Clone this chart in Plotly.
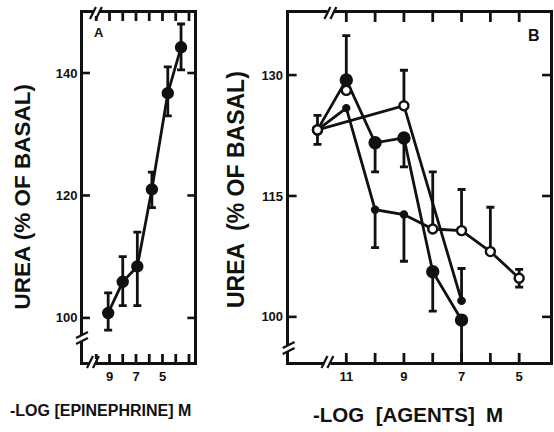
import plotly.graph_objects as go

# ---------------- data ----------------
# Panel A : epinephrine
a_x = [9.1, 8.0, 6.9, 5.8, 4.6, 3.6]
a_y = [100.8, 105.9, 108.4, 121.0, 136.7, 144.2]
a_err_plus = [3.3, 4.1, 5.6, 2.8, 4.3, 3.8]
a_err_minus = [2.8, 3.9, 6.4, 3.0, 3.7, 3.7]

# Panel B : agents (12 = control / basal point)
b1_x = [12, 11, 10, 9, 8, 7]
b1_y = [123.2, 129.4, 121.6, 122.2, 105.6, 99.6]
b1_err_plus = [1.8, 5.5, 0, 0, 0, 0]
b1_err_minus = [1.8, 0, 3.6, 3.6, 4.9, 5.5]

b2_x = [12, 9, 7]
b2_y = [123.2, 126.2, 102.0]
b2_err_plus = [0, 4.4, 4.0]
b2_err_minus = [0, 0, 0]

b3_x = [12, 11, 10, 9, 8, 7, 6, 5]
b3_y = [123.2, 125.9, 113.3, 112.7, 110.9, 110.7, 108.1, 104.8]
b3_err_plus = [0, 0, 0, 0, 7.1, 5.1, 5.5, 1.1]
b3_err_minus = [0, 0, 4.7, 5.8, 0, 0, 0, 1.1]

b4_x = [11]
b4_y = [128.1]

a_tickvals = [3, 4, 5, 6, 7, 8, 9, 10]
a_ticktext = ["", "", "5", "", "7", "", "9", ""]
a_ytickvals = [100, 120, 140]
b_tickvals = [5, 6, 7, 8, 9, 10, 11]
b_ticktext = ["5", "", "7", "", "9", "", "11"]
b_ytickvals = [100, 115, 130]

A_XRANGE = [11.0, 2.6]
A_YRANGE = [92.8, 149.8]
B_XRANGE = [13.0, 3.93]
B_YRANGE = [94.4, 137.7]

# ---------------- geometry ----------------
W, H = 554, 432
ML, MR, MT, MB = 83, 1, 13, 70
PW, PH = W - ML - MR, H - MT - MB
A_L, A_R = 83, 195
B_L, B_R = 290, W - MR


def px(x):
    return (x - ML) / PW


def py(y):
    return (H - MB - y) / PH


FONT = "Liberation Sans"
BLACK = "#111111"

fig = go.Figure()


def add_series(x, y, xa, ya, ep, em, sizes, colors, mode="lines+markers"):
    # error bars first (with invisible markers), so markers sit on top
    if ep is not None:
        for side in ("up", "down"):
            vals = ep if side == "up" else em
            xs = [xx for xx, v in zip(x, vals) if v > 0]
            ys = [yy for yy, v in zip(y, vals) if v > 0]
            vs = [v for v in vals if v > 0]
            zeros = [0] * len(vs)
            fig.add_trace(go.Scatter(
                x=xs, y=ys, mode="markers", xaxis=xa, yaxis=ya, marker=dict(opacity=0, size=1),
                error_y=dict(type="data", array=vs if side == "up" else zeros,
                             arrayminus=zeros if side == "up" else vs,
                             symmetric=False, color=BLACK, thickness=2.8, width=4),
                hoverinfo="skip", showlegend=False))
    fig.add_trace(go.Scatter(
        x=x, y=y, mode=mode, xaxis=xa, yaxis=ya,
        line=dict(color=BLACK, width=2.8),
        marker=dict(size=sizes, color=colors, opacity=1, line=dict(color=BLACK, width=2.4)),
        showlegend=False))


# Panel A
add_series(a_x, a_y, "x", "y", a_err_plus, a_err_minus, 10, BLACK)

# Panel B
add_series(b3_x, b3_y, "x2", "y2", b3_err_plus, b3_err_minus,
           [9, 6, 6, 6, 9, 9, 9, 9],
           ["white", BLACK, BLACK, BLACK, "white", "white", "white", "white"])
add_series(b2_x, b2_y, "x2", "y2", b2_err_plus, b2_err_minus,
           [9, 9, 6], ["white", "white", BLACK])
add_series(b1_x, b1_y, "x2", "y2", b1_err_plus, b1_err_minus,
           [9, 11, 11, 11, 11, 11], ["white", BLACK, BLACK, BLACK, BLACK, BLACK])
add_series(b4_x, b4_y, "x2", "y2", None, None, 9, "white", mode="markers")

axis_common = dict(showline=True, linecolor=BLACK, linewidth=3, mirror=True,
                   ticks="", showgrid=False, zeroline=False,
                   tickfont=dict(family=FONT, size=13, color=BLACK, weight="bold"))

fig.update_layout(
    width=W, height=H, margin=dict(l=ML, r=MR, t=MT, b=MB),
    paper_bgcolor="white", plot_bgcolor="white",
    xaxis=dict(axis_common, domain=[0, px(A_R)], anchor="y", range=A_XRANGE,
               tickmode="array", tickvals=a_tickvals, ticktext=a_ticktext),
    yaxis=dict(axis_common, domain=[0, 1], anchor="x", range=A_YRANGE,
               tickmode="array", tickvals=a_ytickvals),
    xaxis2=dict(axis_common, domain=[px(B_L), 1], anchor="y2", range=B_XRANGE,
                tickmode="array", tickvals=b_tickvals, ticktext=b_ticktext),
    yaxis2=dict(axis_common, domain=[0, 1], anchor="x2", range=B_YRANGE,
                tickmode="array", tickvals=b_ytickvals),
)

# texts
tfont = dict(family=FONT, size=16, color=BLACK, weight="bold")
ann = [
    dict(text="UREA (% OF BASAL)", x=px(22), y=py(197), textangle=-90, font=dict(tfont, size=22.5)),
    dict(text="UREA  (% OF BASAL)", x=px(237), y=py(190), textangle=-90, font=dict(tfont, size=23)),
    dict(text="-LOG [EPINEPHRINE] M", x=px(101), y=py(410), font=tfont),
    dict(text="-LOG  [AGENTS]  M", x=px(410), y=py(414), font=dict(tfont, size=20.5)),
    dict(text="A", x=px(99), y=py(32), font=dict(tfont, size=13)),
    dict(text="B", x=px(537), y=py(35), font=dict(tfont, size=16)),
]
for a in ann:
    a.update(xref="paper", yref="paper", showarrow=False, xanchor="center", yanchor="middle")
fig.update_layout(annotations=ann)

shapes = []


def lin(v, rng, p0, p1):
    return p0 + (v - rng[0]) / (rng[1] - rng[0]) * (p1 - p0)


# inward tick marks on all four sides, drawn as thin filled rectangles
def tick_rect(x0, y0, x1, y1):
    shapes.append(dict(type="rect", xref="paper", yref="paper",
                       x0=px(x0), x1=px(x1), y0=py(y0), y1=py(y1),
                       fillcolor=BLACK, line=dict(width=0), layer="above"))


def xticks(vals, rng, l, r, length):
    for v in vals:
        xx = lin(v, rng, l, r)
        tick_rect(xx - 1.4, 362, xx + 1.4, 362 - length)
        tick_rect(xx - 1.4, 13, xx + 1.4, 13 + length)


def yticks(vals, rng, l, r, length):
    for v in vals:
        yy = lin(v, rng, 362, 13)
        tick_rect(l, yy + 1.3, l + length, yy - 1.3)
        tick_rect(r - length, yy + 1.3, r, yy - 1.3)


xticks(a_tickvals, A_XRANGE, A_L, A_R, 8)
yticks(a_ytickvals, A_YRANGE, A_L, A_R, 7)
xticks(b_tickvals, B_XRANGE, B_L, B_R, 9)
yticks(b_ytickvals, B_YRANGE, B_L, B_R, 8)


# axis break marks "//"
def brk(cx, cy, horizontal=True):
    shapes.append(dict(type="rect", x0=px(cx - 3), x1=px(cx + 3), y0=py(cy + 3), y1=py(cy - 3),
                       xref="paper", yref="paper", fillcolor="white", line=dict(width=0)))
    for d in (-3, 3):
        if horizontal:
            shapes.append(dict(type="line", x0=px(cx + d - 3), y0=py(cy + 6), x1=px(cx + d + 3), y1=py(cy - 6),
                               xref="paper", yref="paper", line=dict(color=BLACK, width=2.2)))
        else:
            shapes.append(dict(type="line", x0=px(cx - 6), y0=py(cy + d + 3), x1=px(cx + 6), y1=py(cy + d - 3),
                               xref="paper", yref="paper", line=dict(color=BLACK, width=2.2)))


brk(96, 13, True)
brk(93, 362, True)
brk(82, 338, False)
brk(332, 13, True)
brk(329, 362, True)
brk(290, 348, False)
fig.update_layout(shapes=shapes)

fig.write_html("out.html", config={"displayModeBar": False},
               post_script="document.body.style.margin='0';")
